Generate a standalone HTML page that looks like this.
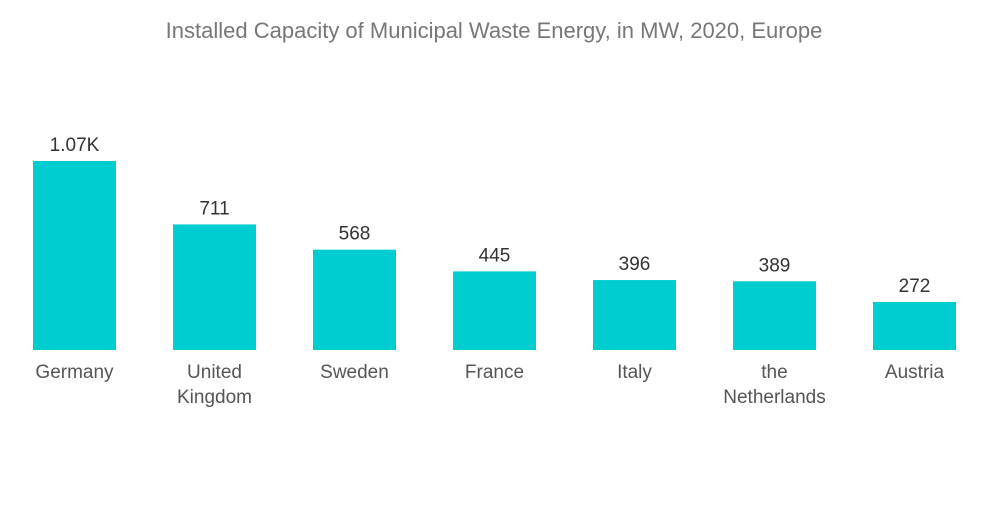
<!DOCTYPE html>
<html><head><meta charset="utf-8"><style>
body{margin:0;background:#fff;width:1000px;height:504px;overflow:hidden;font-family:"Liberation Sans",sans-serif}
</style></head><body>
<svg width="1000" height="504">
<text x="494" y="38" text-anchor="middle" font-size="22" fill="#777">Installed Capacity of Municipal Waste Energy, in MW, 2020, Europe</text>
<g id="bars"></g>
</svg>
<script>
const categories=[["Germany"],["United","Kingdom"],["Sweden"],["France"],["Italy"],["the","Netherlands"],["Austria"]];
const values=[1070,711,568,445,396,389,272];
const valueLabels=["1.07K","711","568","445","396","389","272"];
const ns="http://www.w3.org/2000/svg";
const g=document.getElementById("bars");
const base=350, scale=189/1070;
const x=i=>33+i*140, bw=83;
const y=v=>base-v*scale;
values.forEach((v,i)=>{
  const r=document.createElementNS(ns,"rect");
  r.setAttribute("x",x(i));r.setAttribute("y",y(v));r.setAttribute("width",bw);r.setAttribute("height",base-y(v));r.setAttribute("fill","#00cdd0");
  
  
  g.appendChild(r);
  const t=document.createElementNS(ns,"text");
  t.setAttribute("x",x(i)+bw/2);t.setAttribute("y",y(v)-10);t.setAttribute("text-anchor","middle");t.setAttribute("font-size","19");t.setAttribute("fill","#333");
  t.textContent=valueLabels[i];
  
  
  g.appendChild(t);
  categories[i].forEach((line,j)=>{
    const c=document.createElementNS(ns,"text");
    c.setAttribute("x",x(i)+bw/2);c.setAttribute("y",378+j*25);c.setAttribute("text-anchor","middle");c.setAttribute("font-size","19");c.setAttribute("fill","#555");
    c.textContent=line;
    
    
    g.appendChild(c);
  });
});
</script>
</body></html>
